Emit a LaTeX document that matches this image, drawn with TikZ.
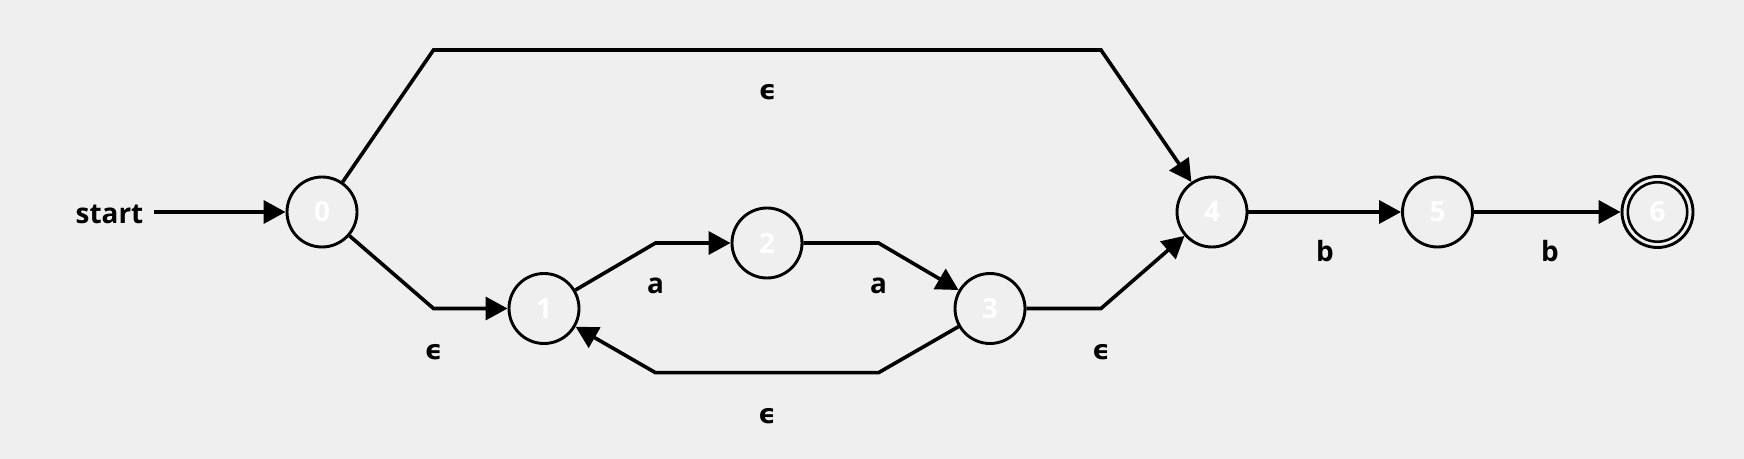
\documentclass[tikz,border=0pt]{standalone}
\usepackage{fontspec}
\setmainfont{Open Sans}
\newfontfamily\epsfont{DejaVu Sans}
\usetikzlibrary{arrows.meta}
\definecolor{bg}{HTML}{EFEFEF}
\begin{document}
\begin{tikzpicture}[x=1bp,y=-1bp,
  lblfont/.style={font=\fontsize{28}{32}\selectfont\bfseries},
  state/.style={circle,draw=black,line width=2.9bp,minimum size=70bp,inner sep=0pt,text=white,lblfont},
  edge/.style={line width=3.6bp,-{Triangle[length=22bp,width=23bp]},line join=miter},
  lbl/.style={lblfont,inner sep=0pt,anchor=base},
  eps/.style={lbl,font=\fontsize{27}{32}\selectfont\epsfont\bfseries}]
\fill[bg] (0,0) rectangle (1744,459);
\useasboundingbox (0,0) rectangle (1744,459);
% states
\node[state] (n0) at (322,212) {0};
\node[state] (n1) at (544,308.5) {1};
\node[state] (n2) at (767,243) {2};
\node[state] (n3) at (990,308.5) {3};
\node[state] (n4) at (1212,212) {4};
\node[state] (n5) at (1437.5,212) {5};
\node[state,minimum size=71bp] (n6) at (1657.5,212) {6};
\draw[line width=2.6bp] (n6.center) circle[radius=29.7bp];
% start
\node[lblfont,inner xsep=10.5bp,inner ysep=0pt,anchor=base] (start) at (109.5,223.3) {start};
% corners
\coordinate (t1) at (433.5,50);
\coordinate (t2) at (1101,50);
\coordinate (c01) at (433.5,308.5);
\coordinate (c12) at (655.5,243);
\coordinate (c23) at (878.5,243);
\coordinate (b1) at (878.5,372.7);
\coordinate (b2) at (655.5,372.7);
\coordinate (c34) at (1101,308.5);
% edges
\draw[edge] (start.east |- n0) -- (n0);
\draw[edge] (n0) -- (t1) -- (t2) -- (n4);
\draw[edge] (n0) -- (c01) -- (n1);
\draw[edge] (n1) -- (c12) -- (n2);
\draw[edge] (n2) -- (c23) -- (n3);
\draw[edge] (n3) -- (b1) -- (b2) -- (n1);
\draw[edge] (n3) -- (c34) -- (n4);
\draw[edge] (n4) -- (n5);
\draw[edge] (n5) -- (n6);
% labels
\node[eps] (l04) at (767.5,100) {ϵ};
\node[eps] (l01) at (433.5,359.5) {ϵ};
\node[lbl] (l12) at (655.5,294) {a};
\node[lbl] (l23) at (878.5,294) {a};
\node[eps] (l31) at (767,423.7) {ϵ};
\node[eps] (l34) at (1101,359.5) {ϵ};
\node[lbl] (l45) at (1325,261.7) {b};
\node[lbl] (l56) at (1550,261.7) {b};
\end{tikzpicture}
\end{document}
